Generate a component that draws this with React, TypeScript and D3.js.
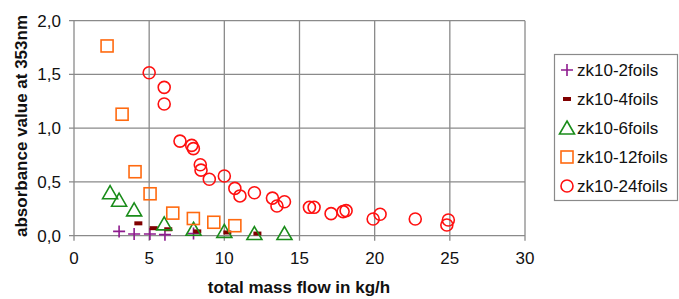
import React, { useEffect, useRef } from 'react';
import * as d3 from 'd3';

const xTicks = [0, 5, 10, 15, 20, 25, 30];
const yTicks = [0, 0.5, 1.0, 1.5, 2.0];

const foils2X = [3.0, 4.0, 5.05, 6.05, 7.95];
const foils2Y = [0.04, 0.016, 0.016, 0.01, 0.02];

const foils4X = [4.28, 5.3, 6.27, 8.2, 10.2, 12.2];
const foils4Y = [0.115, 0.07, 0.06, 0.04, 0.03, 0.02];

const foils6X = [2.4, 3.0, 4.0, 6.0, 7.95, 10.0, 12.0, 14.0];
const foils6Y = [0.4, 0.33, 0.24, 0.11, 0.06, 0.04, 0.02, 0.02];

const foils12X = [2.2, 3.2, 4.06, 5.06, 6.57, 7.94, 9.3, 10.7];
const foils12Y = [1.765, 1.13, 0.595, 0.39, 0.21, 0.16, 0.125, 0.093];

const foils24X = [5.0, 6.0, 6.0, 7.05, 7.83, 7.94, 8.4, 8.45, 9.0, 10.0, 10.7, 11.04, 12.0, 13.2, 13.5, 14.0, 15.66, 15.97, 17.1, 17.9, 18.1, 19.9, 20.36, 22.7, 24.9, 24.8];
const foils24Y = [1.516, 1.38, 1.225, 0.88, 0.84, 0.81, 0.66, 0.61, 0.525, 0.555, 0.44, 0.37, 0.4, 0.35, 0.276, 0.316, 0.264, 0.264, 0.205, 0.224, 0.233, 0.155, 0.2, 0.155, 0.146, 0.1];

const seriesNames = ['zk10-2foils', 'zk10-4foils', 'zk10-6foils', 'zk10-12foils', 'zk10-24foils'];
const seriesColors = ['#8e1b8e', '#800000', '#1a8c1a', '#ff6a10', '#ff1010'];
const seriesMarkers = ['plus', 'dash', 'triangle', 'square', 'circle'];

const FONT = '"Liberation Sans", Arial, sans-serif';

function drawMarker(g, kind, x, y, color) {
  if (kind === 'plus') {
    g.append('path').attr('d', `M${x - 6},${y}H${x + 6}M${x},${y - 6}V${y + 6}`)
      .attr('stroke', color).attr('stroke-width', 1.6).attr('fill', 'none');
  } else if (kind === 'dash') {
    g.append('rect').attr('x', x - 4).attr('y', y - 2).attr('width', 8).attr('height', 4)
      .attr('fill', color);
  } else if (kind === 'triangle') {
    g.append('path').attr('d', `M${x},${y - 7}L${x + 7.5},${y + 6}L${x - 7.5},${y + 6}Z`)
      .attr('stroke', color).attr('stroke-width', 1.6).attr('fill', 'none');
  } else if (kind === 'square') {
    g.append('rect').attr('x', x - 6).attr('y', y - 6).attr('width', 12).attr('height', 12)
      .attr('stroke', color).attr('stroke-width', 1.6).attr('fill', 'none');
  } else {
    g.append('circle').attr('cx', x).attr('cy', y).attr('r', 6)
      .attr('stroke', color).attr('stroke-width', 1.6).attr('fill', 'none');
  }
}

export default function App() {
  const ref = useRef(null);

  useEffect(() => {
    const width = 679, height = 299;
    const svg = d3.select(ref.current);
    svg.selectAll('*').remove();

    const left = 74, right = 525, top = 20.7, bottom = 235.7;
    const x = d3.scaleLinear().domain([0, 30]).range([left, right]);
    const y = d3.scaleLinear().domain([0, 2]).range([bottom, top]);
    const fmt = (d) => d3.format('.1f')(d).replace('.', ',');

    svg.append('rect').attr('width', width).attr('height', height).attr('fill', '#fff');

    // grid
    const grid = svg.append('g').attr('stroke', '#8a8a8a').attr('stroke-width', 1.3);
    xTicks.forEach(t => {
      grid.append('line').attr('x1', x(t)).attr('x2', x(t)).attr('y1', top).attr('y2', bottom + 5);
    });
    yTicks.forEach(t => {
      grid.append('line').attr('x1', left - 5).attr('x2', right).attr('y1', y(t)).attr('y2', y(t));
    });

    // tick labels
    svg.append('g').selectAll('text').data(xTicks).enter().append('text')
      .attr('x', d => x(d)).attr('y', 264).attr('text-anchor', 'middle')
      .attr('font-family', FONT).attr('font-size', 17).attr('fill', '#111')
      .text(d => d);
    svg.append('g').selectAll('text').data(yTicks).enter().append('text')
      .attr('x', 61).attr('y', d => y(d) + 6).attr('text-anchor', 'end')
      .attr('font-family', FONT).attr('font-size', 17).attr('fill', '#111')
      .text(d => fmt(d));

    // axis titles
    svg.append('text').attr('x', 299).attr('y', 293).attr('text-anchor', 'middle')
      .attr('font-family', FONT).attr('font-size', 17).attr('font-weight', 'bold').attr('fill', '#111')
      .text('total mass flow in kg/h');
    svg.append('text').attr('transform', 'translate(27,126) rotate(-90)').attr('text-anchor', 'middle')
      .attr('font-family', FONT).attr('font-size', 17).attr('font-weight', 'bold').attr('fill', '#111')
      .text('absorbance value at 353nm');

    // data
    const xs = [foils2X, foils4X, foils6X, foils12X, foils24X];
    const ys = [foils2Y, foils4Y, foils6Y, foils12Y, foils24Y];
    const marks = svg.append('g');
    for (let s = 0; s < 5; s++) {
      xs[s].forEach((v, i) => drawMarker(marks, seriesMarkers[s], x(v), y(ys[s][i]), seriesColors[s]));
    }

    // legend
    const lg = svg.append('g');
    lg.append('rect').attr('x', 554.5).attr('y', 54.5).attr('width', 123).attr('height', 146)
      .attr('fill', '#fff').attr('stroke', '#8a8a8a').attr('stroke-width', 1.2);
    seriesNames.forEach((name, i) => {
      const cy = 70 + i * 29;
      drawMarker(lg, seriesMarkers[i], 567, cy, seriesColors[i]);
      lg.append('text').attr('x', 577).attr('y', cy + 6)
        .attr('font-family', FONT).attr('font-size', 17).attr('fill', '#111')
        .text(name);
    });
  }, []);

  return (
    <svg ref={ref} width={679} height={299}
      style={{ position: 'absolute', left: 0, top: 0, display: 'block' }} />
  );
}
